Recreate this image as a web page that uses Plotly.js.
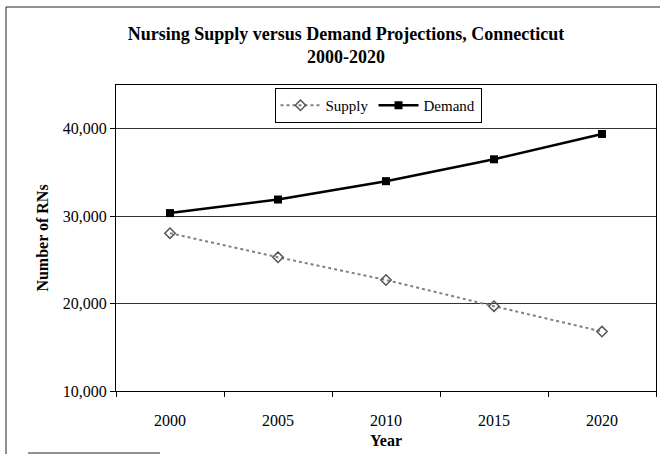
<!DOCTYPE html>
<html>
<head>
<meta charset="utf-8">
<script src="https://cdn.plot.ly/plotly-3.0.1.min.js"></script>
<style>
html,body{margin:0;padding:0;background:#fff;}
#chart{width:663px;height:456px;}
</style>
</head>
<body>
<div id="chart"></div>
<script>
var years = ['2000', '2005', '2010', '2015', '2020'];
var supply = [28050, 25300, 22700, 19700, 16800];
var demand = [30350, 31900, 34000, 36500, 39400];
var yTicks = [10000, 20000, 30000, 40000];
var yTickLabels = ['10,000', '20,000', '30,000', '40,000'];

var L = 116, R = 656, T = 85, B = 391, W = 663, H = 456;
function px(x){ return (x - L) / (R - L); }
function py(y){ return (B - y) / (B - T); }

var traces = [
  {
    x: years, y: supply, name: 'Supply', type: 'scatter', mode: 'lines+markers',
    line: {color: '#808080', width: 2, dash: 'dot'},
    marker: {symbol: 'diamond-open', size: 8, color: '#555', line: {color: '#555', width: 1.5}}
  },
  {
    x: years, y: demand, name: 'Demand', type: 'scatter', mode: 'lines+markers',
    line: {color: '#000', width: 2.5},
    marker: {symbol: 'square', size: 8, color: '#000'}
  }
];

var serif = 'Liberation Serif, Times New Roman, serif';
var layout = {
  width: W, height: H,
  margin: {l: L, r: W - R, t: T, b: H - B},
  paper_bgcolor: '#fff', plot_bgcolor: '#fff',
  font: {family: serif, color: '#000', size: 15},
  title: {
    text: '<b>Nursing Supply versus Demand Projections, Connecticut<br>2000-2020</b>',
    font: {family: serif, size: 18, color: '#000'},
    x: 346 / W, xref: 'container', xanchor: 'center',
    y: 1 - 40 / H, yref: 'container', yanchor: 'middle'
  },
  xaxis: {
    type: 'category', tickson: 'boundaries', range: [-0.5, 4.5],
    ticks: 'outside', ticklen: 5, tickcolor: '#000',
    showline: true, linecolor: '#000', linewidth: 1, mirror: true,
    showgrid: false, zeroline: false,
    ticklabelstandoff: 15,
    tickfont: {family: serif, size: 16, color: '#000'},
    title: {text: '<b>Year</b>', font: {family: serif, size: 16, color: '#000'}, standoff: 6}
  },
  yaxis: {
    range: [10000, 45000],
    tickvals: yTicks, ticktext: yTickLabels,
    ticks: 'outside', ticklen: 5, tickcolor: '#000',
    showline: true, linecolor: '#000', linewidth: 1, mirror: true,
    showgrid: true, gridcolor: '#333', gridwidth: 1, zeroline: false,
    tickfont: {family: serif, size: 16, color: '#000'},
    title: {text: '<b>Number of RNs</b>', font: {family: serif, size: 16, color: '#000'}, standoff: 10}
  },
  showlegend: true,
  legend: {
    orientation: 'h', x: px(378), xanchor: 'center', y: py(88), yanchor: 'top',
    bgcolor: '#fff', bordercolor: '#000', borderwidth: 1,
    font: {family: serif, size: 15, color: '#000'},
    itemwidth: 40, tracegroupgap: 0
  },
  shapes: [
    {type: 'line', xref: 'paper', yref: 'paper', x0: px(6), x1: px(660), y0: py(7), y1: py(7), line: {color: '#222', width: 1}},
    {type: 'line', xref: 'paper', yref: 'paper', x0: px(6), x1: px(6), y0: py(7), y1: py(454), line: {color: '#222', width: 1}},
    {type: 'line', xref: 'paper', yref: 'paper', x0: px(28), x1: px(160), y0: py(453), y1: py(453), line: {color: '#222', width: 1}}
  ]
};

Plotly.newPlot('chart', traces, layout, {displayModeBar: false, staticPlot: true});
</script>
</body>
</html>
